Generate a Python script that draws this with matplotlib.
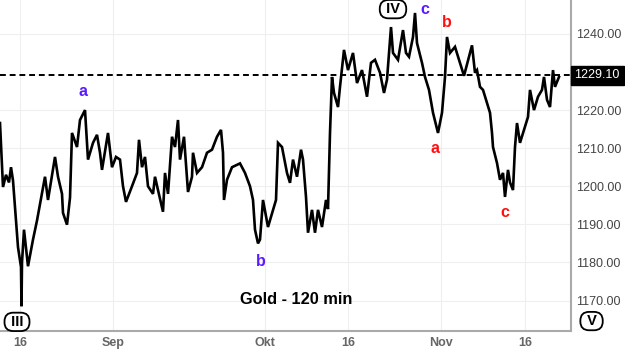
import matplotlib
matplotlib.use("Agg")
import matplotlib.pyplot as plt

plt.rcParams['font.family'] = ['Liberation Sans', 'DejaVu Sans']

# bar index (120 min bars) and price
bars = [0, 6, 12, 18, 22, 26, 30, 36, 42, 43, 44, 48, 56, 66, 74, 90, 96, 110, 116,
        124, 126, 134, 140, 144, 154, 160, 170, 176, 186, 194, 200, 204, 216, 224,
        232, 240, 246, 252, 264, 274, 278, 284, 290, 296, 306, 310, 316, 326, 330,
        336, 344, 350, 356, 360, 368, 376, 384, 386, 394, 404, 414, 424, 434, 442,
        446, 448, 454, 464, 480, 490, 500, 506, 510, 516, 520, 526, 536, 546, 552,
        556, 564, 574, 580, 586, 594, 602, 606, 612, 616, 624, 630, 636, 644, 652,
        656, 660, 664, 668, 676, 680, 688, 696, 706, 714, 724, 734, 742, 750, 760,
        768, 774, 782, 786, 796, 806, 812, 818, 826, 830, 834, 844, 850, 858, 866,
        876, 884, 890, 894, 900, 910, 920, 928, 934, 944, 950, 954, 960, 966, 974,
        980, 984, 986, 994, 1000, 1006, 1010, 1016, 1020, 1026, 1030, 1034, 1040,
        1050, 1056, 1060, 1068, 1076, 1084, 1088, 1094, 1100, 1106, 1110, 1118]
price = [1216.6, 1199.8, 1203.0, 1201.0, 1205.0, 1201.5, 1194.6, 1184.0, 1178.8, 1168.5, 1180.0,
         1188.6, 1179.0, 1186.0, 1191.0, 1202.5, 1196.4, 1207.7, 1202.5,
         1198.0, 1193.0, 1189.9, 1197.0, 1214.0, 1210.3, 1217.4, 1220.0, 1207.0, 1211.4,
         1213.5, 1208.8, 1204.3, 1214.0, 1205.0,
         1207.7, 1207.0, 1200.0, 1195.9, 1200.0, 1203.5, 1212.2, 1205.0, 1207.7, 1200.0,
         1198.0, 1202.5, 1199.0, 1193.3, 1203.5,
         1198.0, 1213.0, 1210.3, 1217.4, 1207.0, 1213.0, 1198.5, 1202.5, 1208.8, 1203.5,
         1205.0, 1208.8, 1209.6, 1213.0, 1214.8,
         1208.8, 1196.4, 1201.7, 1205.0, 1206.0, 1203.5, 1200.0, 1196.4, 1188.6, 1185.0,
         1186.0, 1196.4, 1189.3, 1193.8, 1196.4,
         1211.4, 1210.3, 1203.5, 1200.9, 1207.0, 1202.5, 1209.6, 1207.0, 1197.2, 1187.8,
         1193.8, 1187.8, 1193.8, 1189.3, 1196.4,
         1194.0, 1214.0, 1228.7, 1224.5, 1220.8, 1226.1, 1235.8, 1230.5, 1235.0, 1227.1,
         1230.5, 1223.5, 1232.4, 1233.2, 1229.8,
         1224.5, 1228.0, 1241.8, 1235.0, 1233.2, 1241.0, 1235.0, 1234.0, 1239.2, 1245.5,
         1237.6, 1232.4, 1228.7, 1225.3, 1219.3,
         1214.0, 1219.3, 1228.7, 1239.2, 1235.0, 1236.6, 1232.4, 1229.0, 1232.0, 1237.0,
         1229.8, 1230.5, 1226.1, 1225.3, 1221.9,
         1219.3, 1214.0, 1210.3, 1206.1, 1201.7, 1203.5, 1197.2, 1204.3, 1201.0, 1199.0,
         1210.3, 1216.6, 1211.4,
         1215.6, 1218.2, 1225.3, 1220.0, 1223.5, 1225.3, 1228.7, 1222.7, 1220.8, 1230.5,
         1226.1, 1228.7]

last_price = 1229.10
yticks = [1170, 1180, 1190, 1200, 1210, 1220, 1240]
xtick_pos = [40, 226, 530, 696, 882, 1050]
xtick_labels = ['16', 'Sep', 'Okt', '16', 'Nov', '16']

# wave labels: (text, bar, price, colour)
wave_labels = [('a', 166, 1224.8, '#5a1aff'), ('b', 522, 1180.2, '#5a1aff'),
               ('c', 850, 1246.3, '#5a1aff'), ('a', 870, 1209.8, '#ff1010'),
               ('b', 894, 1243.1, '#ff1010'), ('c', 1010, 1193.0, '#ff1010')]

fig = plt.figure(figsize=(6.25, 3.5), dpi=100)
ax = fig.add_axes([0.0, 19 / 350, 571 / 625, 331 / 350])

ax.plot(bars, price, color='black', lw=1.9, solid_joinstyle='miter')
ax.axhline(last_price, color='black', lw=1.4, ls=(0, (3, 2)))

ax.set_xlim(0, 1142)
ax.set_ylim(1162.0, 1248.9)

ax.yaxis.tick_right()
ax.set_yticks(yticks)
ax.set_yticklabels([f'{v:.2f}' for v in yticks], fontsize=9, color='#444444')
ax.set_xticks(xtick_pos)
ax.set_xticklabels(xtick_labels, fontsize=9, color='#666666', fontweight='bold')
ax.tick_params(length=0, pad=4)
ax.grid(True, color='#efefef', lw=0.8)
ax.set_axisbelow(True)

for s in ['top', 'left']:
    ax.spines[s].set_visible(False)
for s in ['right', 'bottom']:
    ax.spines[s].set_color('#aaaaaa')
    ax.spines[s].set_linewidth(1.5)

# last price badge on the axis
ax.text(1.006, last_price, f'{last_price:.2f}', transform=ax.get_yaxis_transform(),
        ha='left', va='center', fontsize=9, color='white',
        bbox=dict(boxstyle='square,pad=0.3', fc='black', ec='black'))

for txt, bx, py, col in wave_labels:
    ax.text(bx, py, txt, color=col, fontsize=11.5, fontweight='bold', ha='center', va='center')

box = dict(boxstyle='round,pad=0.15,rounding_size=0.6', fc='white', ec='black', lw=1.3)
ax.text(34, 1164.4, ' III ', fontsize=10.5, fontweight='bold', ha='center', va='center', bbox=box)
ax.text(786, 1246.5, ' IV ', fontsize=10.5, fontweight='bold', ha='center', va='center', bbox=box)
ax.text(1.036, 0.03, ' V ', transform=ax.transAxes, fontsize=10.5, fontweight='bold',
        ha='center', va='center', bbox=box, clip_on=False)

ax.text(592, 1170.2, 'Gold - 120 min', fontsize=11.8, fontweight='bold', ha='center', va='center')

fig.savefig('out.png', dpi=100)
